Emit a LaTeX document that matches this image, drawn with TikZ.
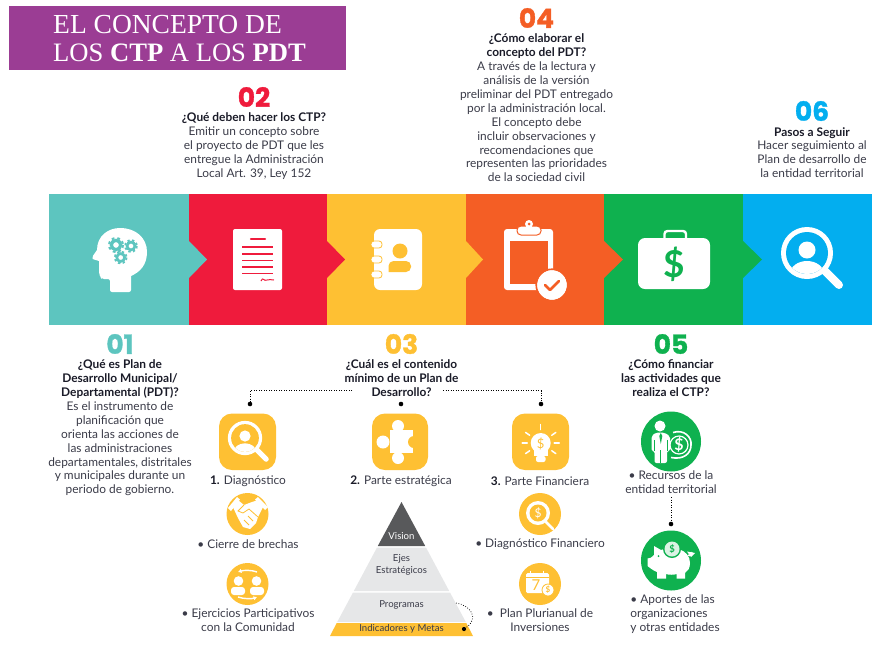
\documentclass[tikz,border=0pt]{standalone}
\usepackage{fontspec}
\usetikzlibrary{arrows.meta}
\setmainfont{Lato}
\newfontfamily\numfont[BoldFeatures={FakeBold=1.2}]{Poppins}
\newfontfamily\titlefont{Liberation Serif}
\definecolor{cteal}{HTML}{5DC5BF}
\definecolor{cred}{HTML}{EF1B3C}
\definecolor{cyel}{HTML}{FEC033}
\definecolor{cora}{HTML}{F45E25}
\definecolor{cgre}{HTML}{0FB14F}
\definecolor{cblu}{HTML}{03AEEF}
\definecolor{cpur}{HTML}{9B3D94}
\definecolor{ctxt}{HTML}{3A3B48}
\definecolor{chead}{HTML}{1A1B28}
\definecolor{cdark}{HTML}{58595B}
\definecolor{cgray}{HTML}{E6E7E8}
\tikzset{
  txt/.style={align=center,inner sep=0pt,text=ctxt,font=\fontsize{11.9}{13.9}\selectfont},
  txtl/.style={align=left,inner sep=0pt,text=ctxt,font=\fontsize{11.9}{13.9}\selectfont},
  num/.style={inner sep=0pt,font=\numfont\bfseries\fontsize{26.5}{26.5}\selectfont},
  pyr/.style={align=center,inner sep=0pt,text=ctxt,font=\fontsize{9.6}{12}\selectfont},
  ttl/.style={anchor=west,inner sep=0pt,text=white,font=\titlefont\fontsize{27.5}{28}\selectfont},
  dotline/.style={draw=black,line width=.7pt,dash pattern=on .8pt off 1.7pt},
  blackdot/.style={circle,fill=black,inner sep=0pt,minimum size=4.6pt},
  sq/.style={fill=cyel,rounded corners=13pt},
}
% magnifier with a person: x y scale background
\newcommand\searchicon[4]{%
  \begin{scope}[shift={(#1,#2)},scale=#3]
    \draw[white,line width=#3*8pt,line cap=round] (18,18) -- (32,32);
    \fill[white] (0,0) circle[radius=26];
    \fill[#4] (0,0) circle[radius=21];
    \begin{scope}
      \clip (0,0) circle[radius=21];
      \fill[white] (0,-3) circle[radius=8.5];
      \fill[white] (0,21) ellipse[x radius=17,y radius=13];
    \end{scope}
  \end{scope}}
\newcommand\gearicon[4]{% x y r colour
  \draw[#4,line width=#3*.42pt] (#1,#2) circle[radius=#3*.62];
  \draw[#4,line width=#3*.3pt,dash pattern=on #3*.37pt off #3*.376pt] (#1,#2) circle[radius=#3*.92];}
\begin{document}
\begin{tikzpicture}[x=1pt,y=-1pt]
\useasboundingbox (0,0) rectangle (872,670);
% title
\fill[cpur] (9,6) rectangle (346,70);
\node[ttl] (t1) at (53,25) {EL CONCEPTO DE};
\node[ttl,font=\titlefont\fontsize{26.6}{28}\selectfont] (t2) at (53,53) {LOS {\bfseries CTP} A LOS {\bfseries PDT}};
% band
\fill[cteal] (49,194) rectangle (189,325);
\fill[cred] (189,194) rectangle (327,325);
\fill[cyel] (327,194) rectangle (466,325);
\fill[cora] (466,194) rectangle (604,325);
\fill[cgre] (604,194) rectangle (743,325);
\fill[cblu] (743,194) rectangle (872,325);
\fill[cteal] (189,241) -- (207,259.5) -- (189,278) -- cycle;
\fill[cred] (327,241) -- (345,259.5) -- (327,278) -- cycle;
\fill[cyel] (466,241) -- (483,259.5) -- (466,278) -- cycle;
\fill[cora] (604,241) -- (623,259.5) -- (604,278) -- cycle;
\fill[cgre] (743,241) -- (762,259.5) -- (743,278) -- cycle;
% head
\fill[white] (110,292) [rounded corners=2pt] -- (110,279) -- (102,279) [rounded corners=4pt] -- (99,276) [sharp corners] -- (99,261)
  -- (92.5,259) .. controls (91.5,257) and (93,256) .. (97,250)
  .. controls (97,236) and (108,228) .. (120,228)
  .. controls (136,228) and (147,238) .. (147,252)
  .. controls (147,265) and (140,272) .. (131,276) [rounded corners=2pt] -- (131,292) -- cycle;
\gearicon{116}{245}{7.5}{cteal}
\gearicon{131}{246}{6.3}{cteal}
\gearicon{120.7}{257.5}{6.3}{cteal}
% document
\fill[white,rounded corners=2pt] (233,229) rectangle (282,290);
\draw[cred,line width=2.2pt,line cap=round] (251,239) -- (265,239);
\foreach \yy in {247,254,260.5,267,273.5}
  \draw[cred,line width=1.4pt] (242,\yy) -- (273,\yy);
\draw[cred,line width=1pt] (261,281) .. controls (263,276) and (264,282) .. (267,280) .. controls (269,279) and (271,280) .. (274,280);
% address book
\fill[white,rounded corners=6pt] (374,229) rectangle (422,290);
\foreach \yy in {244.5,259.5,274.5}
  \draw[white,fill=white,draw=cyel,line width=.8pt,rounded corners=3pt] (371,\yy-3.5) rectangle (382,\yy+3.5);
\fill[cyel] (400,251) circle[radius=7.5];
\fill[cyel,rounded corners=5pt] (388.5,272) -- (388.5,261) -- (411,261) -- (411,272) [sharp corners] -- cycle;
% clipboard
\fill[white,rounded corners=3pt] (504,229) rectangle (553,290);
\fill[cora] (510,241) rectangle (548,284);
\draw[white,fill=white,draw=cora,line width=1pt,rounded corners=4pt] (517,226) rectangle (541,235);
\fill[white] (529,224) circle[radius=4];
\fill[cora] (529,224) circle[radius=1.5];
\fill[white] (552,285) circle[radius=15];
\draw[cora,line width=2.6pt,line cap=round,line join=round] (545,285) -- (550,290) -- (559,281);
\draw[cora,line width=1.6pt] (552,285) circle[radius=15.8];
% briefcase
\draw[white,line width=2.4pt,rounded corners=3pt] (664.5,239) -- (664.5,231) -- (686,231) -- (686,239);
\fill[white,rounded corners=7pt] (638,238) rectangle (710,289);
\node[inner sep=0pt,text=cgre,font=\bfseries\fontsize{37}{37}\selectfont] (dollar) at (674,264) {\$};
% search
\searchicon{807}{253}{1}{cblu}
% section texts
\node[num,text=cred] (n2) at (254,97) {02};
\node[txt] (b2) at (254,146) {{\bfseries\color{chead}¿Qué deben hacer los CTP?}\\Emitir un concepto sobre\\el proyecto de PDT que les\\entregue la Administración\\Local Art. 39, Ley 152};
\node[num,text=cora] (n4) at (536.5,18) {04};
\node[txt] (b4) at (536.5,108) {{\bfseries\color{chead}¿Cómo elaborar el}\\{\bfseries\color{chead}concepto del PDT?}\\A través de la lectura y\\análisis de la versión\\preliminar del PDT entregado\\por la administración local.\\El concepto debe\\incluir observaciones y\\recomendaciones que\\representen las prioridades\\de la sociedad civil};
\node[num,text=cblu] (n6) at (812,111) {06};
\node[txt] (b6) at (812,152.5) {{\bfseries\color{chead}Pasos a Seguir}\\Hacer seguimiento al\\Plan de desarrollo de\\la entidad territorial};
\node[num,text=cteal] (n1) at (120,344) {01};
\node[txt] (b1) at (120,428) {{\bfseries\color{chead}¿Qué es Plan de}\\{\bfseries\color{chead}Desarrollo Municipal/}\\{\bfseries\color{chead}Departamental (PDT)?}\\Es el instrumento de\\planificación que\\orienta las acciones de\\las administraciones\\departamentales, distritales\\y municipales durante un\\periodo de gobierno.};
\node[num,text=cyel] (n3) at (401.5,344) {03};
\node[txt] (b3) at (401.5,378) {{\bfseries\color{chead}¿Cuál es el contenido}\\{\bfseries\color{chead}mínimo de un Plan de}\\{\bfseries\color{chead}Desarrollo?}};
\node[num,text=cgre] (n5) at (671,344) {05};
\node[txt] (b5) at (671,378) {{\bfseries\color{chead}¿Cómo financiar}\\{\bfseries\color{chead}las actividades que}\\{\bfseries\color{chead}realiza el CTP?}};
% dotted connectors of 03
\node[blackdot] (d1) at (250,404) {};
\node[blackdot] (d2) at (401,404) {};
\node[blackdot] (d3) at (541,404) {};
\coordinate (c1) at (352,390.5);
\coordinate (c3) at (443,390.5);
\draw[dotline] (c1) -| (d1);
\draw[dotline] (c3) -| (d3);
% yellow squares
\fill[sq] (219,413.5) rectangle (276,470);
\searchicon{245}{438}{.66}{cyel}
\fill[sq] (372,413.5) rectangle (428,470);
\fill[white] (390,430) rectangle (413,453);
\fill[white] (398,426) circle[radius=6];
\fill[white] (398,458) circle[radius=6];
\fill[white] (383,442) circle[radius=6.5];
\fill[cyel] (414,442) circle[radius=6];
\fill[sq] (512,413.5) rectangle (569,470);
\fill[white] (540.7,443) circle[radius=10];
\fill[white] (534,449) rectangle (547.5,456);
\fill[white,rounded corners=2pt] (536,456) rectangle (545.5,462);
\node[inner sep=0pt,text=cyel,font=\fontsize{13}{13}\selectfont] (dl3) at (540.7,444) {\$};
\foreach \aa in {0,35,90,145,180,215,325}
  \draw[white,line width=1.5pt,line cap=round] (540.7,443) ++({13.5*cos(\aa)},{-13.5*sin(\aa)}) -- ++({5*cos(\aa)},{-5*sin(\aa)});
% labels
\node[txt] (l1) at (248,481) {{\bfseries\color{chead}1.} Diagnóstico};
\node[txt] (l2) at (401,481) {{\bfseries\color{chead}2.} Parte estratégica};
\node[txt] (l3) at (540,481) {{\bfseries\color{chead}3.} Parte Financiera};
% handshake
\fill[cyel] (247.5,514) circle[radius=21];
\fill[white] (232,505) -- (238,500) -- (244,505) -- (252,502) -- (258,500) -- (264,505) -- (258,517) -- (256,523) -- (250,529) -- (243,527) -- (238,518) -- cycle;
\fill[white] (228,508) -- (237,497) -- (240,499.5) -- (231,511) -- cycle;
\fill[white] (255,499.5) -- (258,497) -- (268,507) -- (265,510) -- cycle;
\draw[cyel,line width=.8pt] (244,505) -- (238,511) -- (243,513) -- (249,509) -- (258,517);
\draw[cyel,line width=.8pt] (244,520) -- (249,525) (248,516) -- (253,521);
% people
\fill[cyel] (247.5,584) circle[radius=21];
\fill[white] (238.5,581) circle[radius=4.8];
\fill[white] (256.5,581) circle[radius=4.8];
\fill[white,rounded corners=3pt] (231,595) rectangle (245,587);
\fill[white,rounded corners=3pt] (250,595) rectangle (264,587);
\draw[white,line width=1.4pt,-{Latex[length=3.5pt,width=4.5pt]}] (257,572) .. controls (252,570) and (244,570) .. (238,572);
\draw[white,line width=1.4pt,-{Latex[length=3.5pt,width=4.5pt]}] (238,597) .. controls (244,599) and (252,599) .. (257,597);
\node[txt] (l4) at (248,544) {• Cierre de brechas};
\node[txt] (l5) at (248,620) {• Ejercicios Participativos\\con la Comunidad};
% pyramid
\fill[cdark] (401.5,502) -- (425.2,546) -- (377.8,546) -- cycle;
\fill[cgray] (426,547.5) -- (449.2,591) -- (353.8,591) -- (377,547.5) -- cycle;
\fill[cgray] (450,592.5) -- (465.8,622) -- (337.2,622) -- (353,592.5) -- cycle;
\fill[cyel] (466.3,623) -- (473,636) -- (330,636) -- (336.7,623) -- cycle;
\node[pyr,text=white] (p1) at (401.5,536) {Vision};
\node[pyr] (p2) at (401.5,565) {Ejes\\Estratégicos};
\node[pyr] (p3) at (401.5,605) {Programas};
\node[pyr] (p4) at (401.5,628.5) {Indicadores y Metas};
\node[blackdot,minimum size=4.2pt] (d4) at (464,629) {};
\coordinate (c4) at (456,603);
\draw[dotline] (c4) .. controls (470,605) and (480,618) .. (d4);
% finance icons
\fill[cyel] (540,514) circle[radius=21];
\draw[white,line width=2.8pt,line cap=round] (546,522) -- (553,529);
\fill[white] (538,513) circle[radius=12];
\fill[cyel] (538,513) circle[radius=8.5];
\node[inner sep=0pt,text=white,font=\fontsize{12}{12}\selectfont] (dl4) at (538,513) {\$};
\fill[cyel] (540,584) circle[radius=21];
\fill[white,rounded corners=1.5pt] (526,573) rectangle (549,593);
\fill[cyel] (526,576.5) rectangle (549,577.2);
\draw[white,line width=1.2pt] (530.5,570.5) -- (530.5,574) (543.5,570.5) -- (543.5,574);
\node[inner sep=0pt,text=cyel,font=\fontsize{15}{15}\selectfont] (seven) at (536,585.5) {7};
\fill[white,draw=cyel,line width=.8pt] (548,590) circle[radius=6];
\node[inner sep=0pt,text=cyel,font=\bfseries\fontsize{8}{8}\selectfont] (dl5) at (548,590) {\$};
\node[txt] (l6) at (540,544) {• Diagnóstico Financiero};
\node[txt] (l7) at (540,620) {•\ \ Plan Plurianual de\\Inversiones};
% businessman
\fill[cgre] (671,441.5) circle[radius=30];
\draw[white,line width=1.6pt] (673,432.5) .. controls (684,429) and (692,437) .. (691,445) .. controls (691,454) and (683,460) .. (671,457.5);
\fill[white] (660,426) circle[radius=5.5];
\fill[white,rounded corners=2pt] (651.5,451) -- (651.5,436) -- (656,432.5) -- (664,432.5) -- (670,436) -- (670,451) -- (667,451) -- (667,463) -- (654.5,463) -- (654.5,451) -- cycle;
\draw[cgre,line width=.7pt] (654.5,440) -- (654.5,451) (667,440) -- (667,451) (660.8,450) -- (660.8,463);
\fill[cgre] (660.8,433) -- (659.3,436) -- (660.8,444) -- (662.3,436) -- cycle;
\node[inner sep=0pt,text=white,font=\bfseries\fontsize{16}{16}\selectfont] (dl6) at (679,445) {\$};
\draw[white,line width=1.2pt] (679,445) circle[radius=9];
\node[txt] (l8) at (671,482) {• Recursos de la\\entidad territorial};
% dotted 05
\coordinate (c5) at (671,497);
\node[blackdot] (d5) at (671,524) {};
\draw[dotline] (c5) -- (d5);
% piggy
\fill[cgre] (671,560.5) circle[radius=30];
\fill[white] (647.5,558.5) .. controls (650,559) and (652,557) .. (654,555) -- (654,546) -- (661,550)
  .. controls (672,545) and (690,549) .. (690,563)
  .. controls (690,568) and (688,571) .. (685,573) -- (685,578.5) -- (676.5,578.5) -- (676.5,574)
  .. controls (674,575) and (669,575) .. (666,574) -- (666,578.5) -- (657,578.5) -- (657,572)
  .. controls (654,571) and (650,568) .. (647.5,566) -- cycle;
\draw[white,line width=1.2pt] (688,555) .. controls (690,557) and (692,554) .. (692,552);
\fill[white] (687,551.5) -- (695,553) -- (691,557) -- cycle;
\fill[cgre] (658.5,556) circle[radius=1];
\fill[cgre] (672,549) circle[radius=9];
\fill[white!85!cgre] (672,549) circle[radius=7.5];
\node[inner sep=0pt,text=cgre,font=\bfseries\fontsize{9.5}{9.5}\selectfont] (dl7) at (672,549) {\$};
\node[txtl] (l9) at (675,614) {• Aportes de las\\organizaciones\\y otras entidades};
\end{tikzpicture}
\end{document}
